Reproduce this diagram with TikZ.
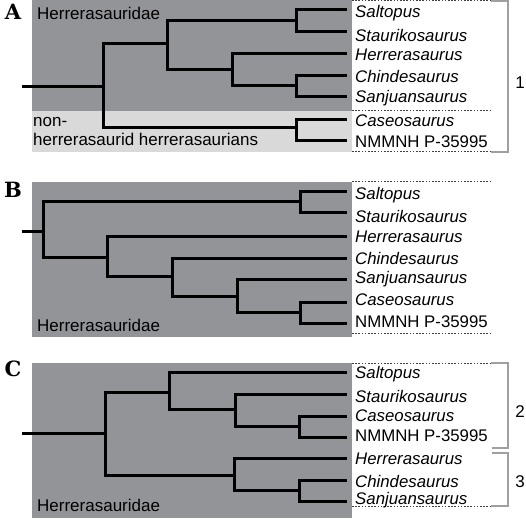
\documentclass[tikz,border=0pt]{standalone}
\usepackage{fontspec}
\setmainfont{Liberation Sans}
\newfontfamily\letterfont{DejaVu Serif}
\definecolor{dgray}{RGB}{147,148,152}
\definecolor{lgray}{RGB}{217,217,217}
\definecolor{bgray}{RGB}{160,160,160}
\begin{document}
\begin{tikzpicture}[x=1pt,y=-1pt,
  br/.style={line width=3pt,line join=miter,line cap=rect},
  dsh/.style={line width=1pt,black!75,dash pattern=on 1.6pt off 1.6pt},
  brk/.style={line width=1.2pt,bgray},
  taxon/.style={font=\fontsize{16.8}{16.8}\selectfont\itshape,anchor=west,inner sep=0pt},
  specimen/.style={font=\fontsize{16.8}{16.8}\selectfont,anchor=west,inner sep=0pt},
  clade/.style={font=\fontsize{17}{17}\selectfont,anchor=west,inner sep=0pt,align=left},
  num/.style={font=\fontsize{17}{17}\selectfont,inner sep=0pt},
  panel/.style={font=\fontsize{21}{21}\selectfont\letterfont\bfseries,inner sep=0pt}]
\useasboundingbox (0,0) rectangle (526,518);
% ---------- Panel A ----------
\fill[dgray] (32,0) rectangle (352,111);
\fill[lgray] (32,111) rectangle (352,152);
\node[panel] (A) at (13,12) {A};
\node[clade] (hA) at (37,13) {Herrerasauridae};
\node[clade] (nhA) at (33,132) {non-\\[2pt]herrerasaurid herrerasaurians};
\draw[dsh] (352,1) -- (491,1);
\draw[dsh] (352,111) -- (491,111);
\draw[dsh] (352,152) -- (491,152);
\draw[brk] (491,1) -- (508,1) -- (508,152) -- (491,152);
\node[num] (n1) at (520,83) {1};
\node[taxon] (a1) at (355,13) {Saltopus};
\node[taxon] (a2) at (355,35) {Staurikosaurus};
\node[taxon] (a3) at (355,55) {Herrerasaurus};
\node[taxon] (a4) at (355,77) {Chindesaurus};
\node[taxon] (a5) at (355,98) {Sanjuansaurus};
\node[taxon] (a6) at (355,121) {Caseosaurus};
\node[specimen] (a7) at (355,142) {NMMNH P-35995};
\draw[br] (23,87) -- (103,87);
\draw[br] (167,44) -- (103,44) -- (103,128) -- (296,128);
\draw[br] (296,21) -- (167,21) -- (167,70) -- (232,70);
\draw[br] (345,10) -- (296,10) -- (296,32) -- (345,32);
\draw[br] (345,54) -- (232,54) -- (232,86) -- (296,86);
\draw[br] (345,76) -- (296,76) -- (296,97) -- (345,97);
\draw[br] (345,120) -- (296,120) -- (296,141) -- (345,141);
% ---------- Panel B ----------
\fill[dgray] (32,182) rectangle (352,337);
\node[panel] (B) at (13,190) {B};
\node[clade] (hB) at (37,325) {Herrerasauridae};
\draw[dsh] (352,182) -- (491,182);
\draw[dsh] (352,333) -- (491,333);
\node[taxon] (b1) at (355,195) {Saltopus};
\node[taxon] (b2) at (355,216) {Staurikosaurus};
\node[taxon] (b3) at (355,237) {Herrerasaurus};
\node[taxon] (b4) at (355,258) {Chindesaurus};
\node[taxon] (b5) at (355,279) {Sanjuansaurus};
\node[taxon] (b6) at (355,300) {Caseosaurus};
\node[specimen] (b7) at (355,322) {NMMNH P-35995};
\draw[br] (23,231) -- (43,231);
\draw[br] (300,202) -- (43,202) -- (43,257) -- (107,257);
\draw[br] (345,192) -- (300,192) -- (300,213) -- (345,213);
\draw[br] (345,236) -- (107,236) -- (107,276) -- (172,276);
\draw[br] (345,258) -- (172,258) -- (172,296) -- (237,296);
\draw[br] (345,279) -- (237,279) -- (237,312) -- (300,312);
\draw[br] (345,302) -- (300,302) -- (300,323) -- (345,323);
% ---------- Panel C ----------
\fill[dgray] (32,363) rectangle (352,518);
\node[panel] (C) at (13,369) {C};
\node[clade] (hC) at (37,505) {Herrerasauridae};
\draw[dsh] (352,363) -- (491,363);
\draw[dsh] (352,506) -- (491,506);
\draw[brk] (491,363) -- (508,363) -- (508,448) -- (492,448);
\draw[brk] (492,453) -- (508,453) -- (508,506) -- (491,506);
\node[num] (n2) at (520,412) {2};
\node[num] (n3) at (520,482) {3};
\node[taxon] (c1) at (355,374) {Saltopus};
\node[taxon] (c2) at (355,396) {Staurikosaurus};
\node[taxon] (c3) at (355,416) {Caseosaurus};
\node[specimen] (c4) at (355,436) {NMMNH P-35995};
\node[taxon] (c5) at (355,459) {Herrerasaurus};
\node[taxon] (c6) at (355,481) {Chindesaurus};
\node[taxon] (c7) at (355,500) {Sanjuansaurus};
\draw[br] (23,433) -- (105,433);
\draw[br] (169,392) -- (105,392) -- (105,475) -- (234,475);
\draw[br] (345,372) -- (169,372) -- (169,409) -- (235,409);
\draw[br] (345,394) -- (235,394) -- (235,426) -- (299,426);
\draw[br] (345,416) -- (299,416) -- (299,437) -- (345,437);
\draw[br] (345,458) -- (234,458) -- (234,490) -- (299,490);
\draw[br] (345,480) -- (299,480) -- (299,501) -- (345,501);
\end{tikzpicture}
\end{document}
